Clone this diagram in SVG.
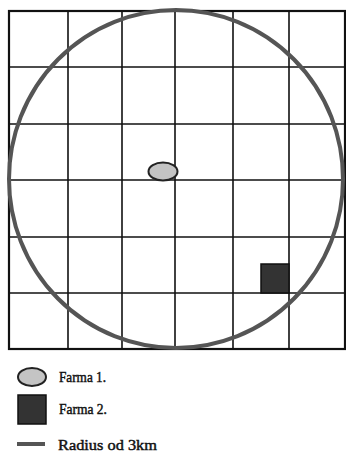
<svg xmlns="http://www.w3.org/2000/svg" width="346" height="452" viewBox="0 0 346 452">
<style>
.g{stroke:#111;stroke-width:1.6;fill:none}
.b{stroke:#111;stroke-width:2.2;fill:none}
.c{stroke:#555;stroke-width:4;fill:none}
.f1{fill:#c4c4c4;stroke:#222;stroke-width:2}
.f2{fill:#333;stroke:#111;stroke-width:1.5}
.t{font-family:"Liberation Serif","Times New Roman",serif;font-size:15px;fill:#111;stroke:#111;stroke-width:0.45}
</style>
<rect width="346" height="452" fill="#fff"/>
<g id="grid">
<line class="g" x1="68" y1="11" x2="68" y2="349"/>
<line class="g" x1="122" y1="11" x2="122" y2="349"/>
<line class="g" x1="175" y1="11" x2="175" y2="349"/>
<line class="g" x1="233" y1="11" x2="233" y2="349"/>
<line class="g" x1="289" y1="11" x2="289" y2="349"/>
<line class="g" x1="9" y1="67" x2="345" y2="67"/>
<line class="g" x1="9" y1="124" x2="345" y2="124"/>
<line class="g" x1="9" y1="180" x2="345" y2="180"/>
<line class="g" x1="9" y1="237" x2="345" y2="237"/>
<line class="g" x1="9" y1="293" x2="345" y2="293"/>
<rect class="b" x="9" y="11" width="336" height="338"/>
</g>
<g id="radius">
<ellipse class="c" cx="176" cy="179" rx="167" ry="169"/>
</g>
<g id="farma1">
<ellipse class="f1" cx="163" cy="171.5" rx="14.5" ry="9"/>
</g>
<g id="farma2">
<rect class="f2" x="261" y="264" width="28" height="29"/>
</g>
<g id="legend">
<ellipse class="f1" cx="32" cy="377" rx="14" ry="9"/>
<text class="t" x="59" y="382" textLength="47" lengthAdjust="spacingAndGlyphs">Farma 1.</text>
<rect class="f2" x="18" y="395" width="28" height="29"/>
<text class="t" x="59" y="414" textLength="48" lengthAdjust="spacingAndGlyphs">Farma 2.</text>
<line x1="17" y1="444" x2="45" y2="444" stroke="#555" stroke-width="4"/>
<text class="t" x="58" y="450" textLength="99" lengthAdjust="spacingAndGlyphs">Radius od 3km</text>
</g>
</svg>
